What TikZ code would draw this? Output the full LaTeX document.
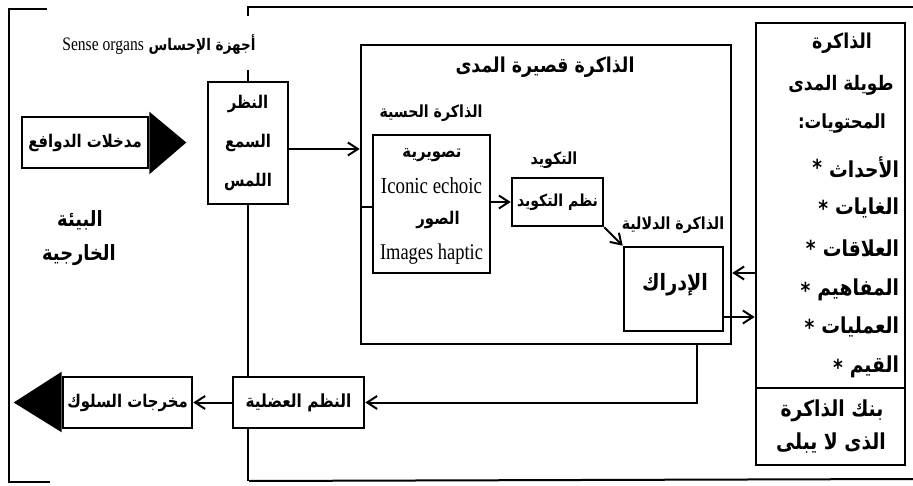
\documentclass[tikz,border=0pt]{standalone}
\usepackage{fontspec}
\usepackage{tikz}
\usetikzlibrary{arrows.meta}
\TeXXeTstate=1
\newfontfamily\arabicfont[Script=Arabic, FakeStretch=0.85]{DejaVu Sans}
\newfontfamily\latinfont[FakeStretch=0.82]{Liberation Serif}
\newcommand{\artext}[1]{{\arabicfont\bfseries\beginR #1\endR}}
\newcommand{\lattext}[1]{{\latinfont #1}}

\begin{document}
\begin{tikzpicture}[x=1pt, y=-1pt, line width=2pt,
	box node/.style={draw, line width=2.6pt, inner sep=0pt},
	text node/.style={inner sep=0pt, font=\fontsize{#1}{#1}\selectfont},
	text node/.default=18,
	every edge/.style={draw, line width=2pt, -{Straight Barb[length=10pt,width=13pt]}}]
	\useasboundingbox (0,0) rectangle (913,486);
	
	\draw (47,9) -- (9,9) -- (9,482) -- (50,482);
	\draw (248,16) -- (248,7) -- (913,7);
	\draw (249,481) -- (913,479);
	
	\node[text node=16] (senselabel) at (159,45) {\lattext{\fontsize{19}{20}\selectfont Sense organs} \artext{أجهزة الإحساس}};
	\node[box node, minimum width=80pt, minimum height=122pt] (sense) at (248,143) {};
	\node[text node=17.5] (sight) at (248,104) {\artext{النظر}};
	\node[text node=17.5] (hearing) at (248,143) {\artext{السمع}};
	\node[text node=17.5] (touch) at (248,182) {\artext{اللمس}};
	
	\node[box node, minimum width=126pt, minimum height=51pt] (inputs) at (85,142.5) {};
	\node[text node=17.5] at (inputs) {\artext{مدخلات الدوافع}};
	\fill ([yshift=4pt]inputs.north east) -- ([xshift=37pt]inputs.east) -- ([yshift=-5pt]inputs.south east) -- cycle;
	
	\node[text node=21] (env1) at (80,220) {\artext{البيئة}};
	\node[text node=21] (env2) at (79,255) {\artext{الخارجية}};
	
	\node[box node, minimum width=131pt, minimum height=51pt] (muscles) at (298.5,402.5) {};
	\node[text node] at (muscles) {\artext{النظم العضلية}};
	\node[box node, minimum width=129pt, minimum height=51pt] (outputs) at (127.5,402.5) {};
	\node[text node=17.5] at (outputs) {\artext{مخرجات السلوك}};
	\fill ([yshift=4pt]outputs.north west) -- ([xshift=-48pt]outputs.west) -- ([yshift=-3pt]outputs.south west) -- cycle;
	
	\node[box node, minimum width=370pt, minimum height=299pt] (stm) at (546,194.5) {};
	\node[text node=20.5] (stmtitle) at (545,67) {\artext{الذاكرة قصيرة المدى}};
	
	\node[text node=16.7] (sensorytitle) at (431,113) {\artext{الذاكرة الحسية}};
	\node[box node, minimum width=117pt, minimum height=138pt] (sensory) at (431.5,204) {};
	\node[text node=17.5] at (432,155) {\artext{تصويرية}};
	\node[text node] at (431.5,186) {\lattext{\fontsize{23}{24}\selectfont Iconic echoic}};
	\node[text node=17.5] at (438,220) {\artext{الصور}};
	\node[text node] at (431.5,254) {\lattext{\fontsize{22.5}{24}\selectfont Images haptic}};
	
	\node[text node=16.7] (codingtitle) at (554,160) {\artext{التكويد}};
	\node[box node, minimum width=91pt, minimum height=48pt] (coding) at (557.5,202) {};
	\node[text node=16.5] at (coding) {\artext{نظم التكويد}};
	
	\node[text node=16.7] (semantictitle) at (673,225) {\artext{الذاكرة الدلالية}};
	\node[box node, minimum width=99pt, minimum height=84pt] (percept) at (673.5,289) {};
	\node[text node=22.5] at (675,285) {\artext{الإدراك}};
	
	\node[box node, minimum width=149pt, minimum height=365pt] (ltm) at (830.5,205.5) {};
	\node[box node, minimum width=149pt, minimum height=77pt] (bank) at (830.5,426.5) {};
	\node[text node=20.5] at (842,43) {\artext{الذاكرة}};
	\node[text node=20] at (841,85) {\artext{طويلة المدى}};
	\node[text node=19.5] at (842,123) {\artext{المحتويات:}};
	\foreach \word/\ypos [count=\i] in {الأحداث/167, الغايات/208, العلاقات/248, المفاهيم/290, العمليات/327, القيم/367} {
		\node[text node=22, anchor=east] (item\i) at (900,\ypos) {\artext{\word}};
		\node[text node=22, anchor=east] at ([xshift=-5pt]item\i.west) {\arabicfont\bfseries *};
	}
	\node[text node=22] at (832,411) {\artext{بنك الذاكرة}};
	\node[text node=22] at (831,443) {\artext{الذى لا يبلى}};
	
	\coordinate (feed) at (300,149);
	\coordinate (link) at (365,207);
	\coordinate (recall) at (745,273);
	\coordinate (store) at (745,317);
	\coordinate (motor) at (697,402.5);
	
	\draw (248,70) -- (sense.north);
	\draw (sense.south) -- (sense.south |- muscles.north);
	\draw (sense.south |- muscles.south) -- (sense.south |- 0,481);
	\draw (stm.west |- link) -- (sensory.west |- link);
	\draw[-{Straight Barb[length=10pt,width=13pt]}] (motor |- stm.south) -- (motor) -- (muscles.east |- motor);
	
	\path (sense.east |- feed) edge (stm.west |- feed)
	(sensory.east |- coding.west) edge (coding.west)
	(coding.south east) edge (percept.north west)
	(ltm.west |- recall) edge (stm.east |- recall)
	(percept.east |- store) edge (ltm.west |- store)
	(muscles.west) edge (outputs.east);
\end{tikzpicture}
\end{document}
